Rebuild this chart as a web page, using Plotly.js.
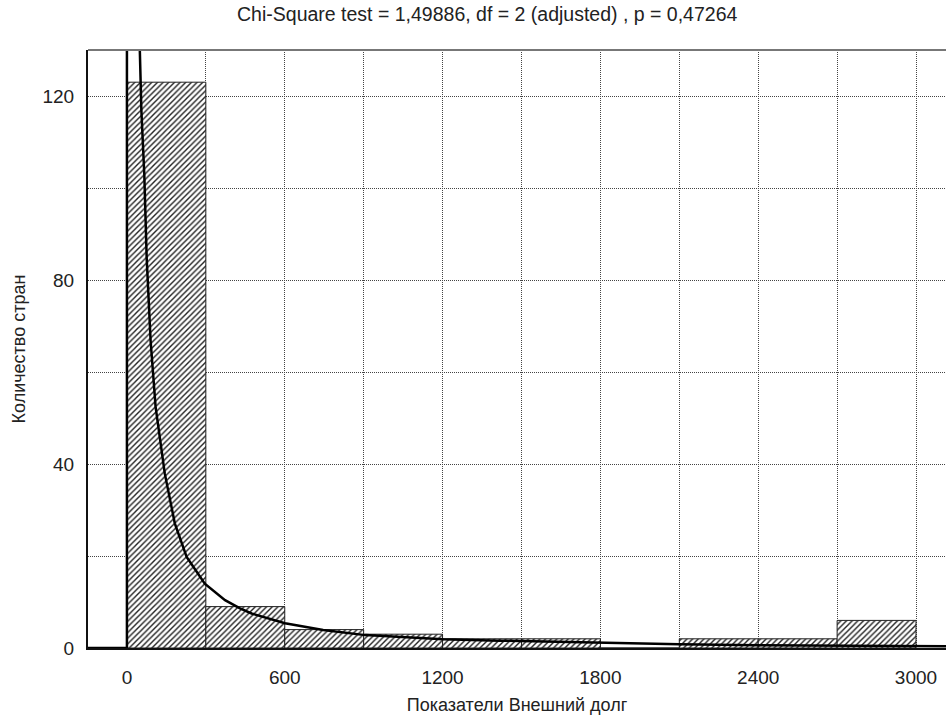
<!DOCTYPE html>
<html>
<head>
<meta charset="utf-8">
<script src="https://cdn.plot.ly/plotly-3.0.1.min.js"></script>
<style>html,body{margin:0;padding:0;background:#fff;overflow:hidden}</style>
</head>
<body>
<div id="chart" style="width:946px;height:718px"></div>
<script>
// Histogram bins (lower edges) and counts
const binStarts = [0, 300, 600, 900, 1200, 1500, 1800, 2100, 2400, 2700];
const binWidth = 300;
const counts = [123, 9, 4, 3, 2, 2, 0, 2, 2, 6];

// Fitted curve
const fitX = [-148, 0, 0, 49, 55, 66, 75, 90, 109, 144, 182, 227, 296, 373, 430, 474, 601, 746, 906, 1063, 1203, 1418, 1500, 1650, 1800, 1900, 2100, 2400, 2700, 3000, 3114];
const fitY = [0, 0, 400, 130, 116.8, 103, 84.9, 66.8, 52.4, 37.9, 27.1, 19.8, 14.0, 10.4, 8.6, 7.5, 5.4, 3.9, 2.8, 2.3, 1.9, 1.6, 1.5, 1.3, 1.1, 0.9, 0.8, 0.6, 0.5, 0.45, 0.4];

const titleText = "Chi-Square test = 1,49886, df = 2 (adjusted) , p = 0,47264";
const xTitle = "Показатели Внешний долг";
const yTitle = "Количество стран";

const font = "Liberation Sans, Arial, sans-serif";
const dots = "1px,1px";

const bars = {
  type: "bar",
  x: binStarts,
  y: counts,
  width: binStarts.map(() => binWidth),
  offset: 0,
  marker: {
    color: "white",
    line: {color: "#222", width: 1},
    pattern: {shape: "/", fgcolor: "#222", bgcolor: "white", size: 4, solidity: 0.35, fillmode: "replace"}
  },
  showlegend: false
};

const curve = {
  type: "scatter",
  mode: "lines",
  x: fitX,
  y: fitY,
  line: {color: "#000", width: 2.5},
  showlegend: false
};

const layout = {
  width: 946,
  height: 718,
  margin: {l: 88, r: 0, t: 50, b: 70},
  paper_bgcolor: "white",
  plot_bgcolor: "white",
  font: {family: font, color: "#222", size: 15},
  title: {text: titleText, font: {family: font, size: 19.5, color: "#222"}, x: 0.515, xanchor: "center", y: 0.98, yanchor: "middle"},
  bargap: 0,
  xaxis: {
    range: [-148, 3114],
    dtick: 600,
    tick0: 0,
    showgrid: true,
    gridcolor: "#444",
    griddash: dots,
    gridwidth: 1,
    minor: {dtick: 300, showgrid: true, gridcolor: "#444", griddash: dots, gridwidth: 1},
    zeroline: false,
    showline: true,
    linecolor: "#111",
    linewidth: 2,
    ticks: "",
    ticklabelstandoff: 11,
    tickfont: {family: font, size: 19, color: "#222"},
    title: {text: xTitle, font: {family: font, size: 18, color: "#222"}, standoff: 12},
    automargin: false,
    fixedrange: true
  },
  yaxis: {
    range: [0, 130],
    dtick: 40,
    tick0: 0,
    showgrid: true,
    gridcolor: "#444",
    griddash: dots,
    gridwidth: 1,
    minor: {dtick: 20, showgrid: true, gridcolor: "#444", griddash: dots, gridwidth: 1},
    zeroline: false,
    showline: true,
    linecolor: "#111",
    linewidth: 2,
    ticks: "",
    ticklabelstandoff: 8,
    tickfont: {family: font, size: 19, color: "#222"},
    title: {text: yTitle, font: {family: font, size: 18, color: "#222"}, standoff: 12},
    automargin: false,
    fixedrange: true
  },
  shapes: [
    {type: "line", xref: "paper", yref: "paper", x0: 0, x1: 1, y0: 1, y1: 1, line: {color: "#777", width: 2}}
  ]
};

Plotly.newPlot("chart", [bars, curve], layout, {displayModeBar: false, staticPlot: true});
</script>
</body>
</html>
